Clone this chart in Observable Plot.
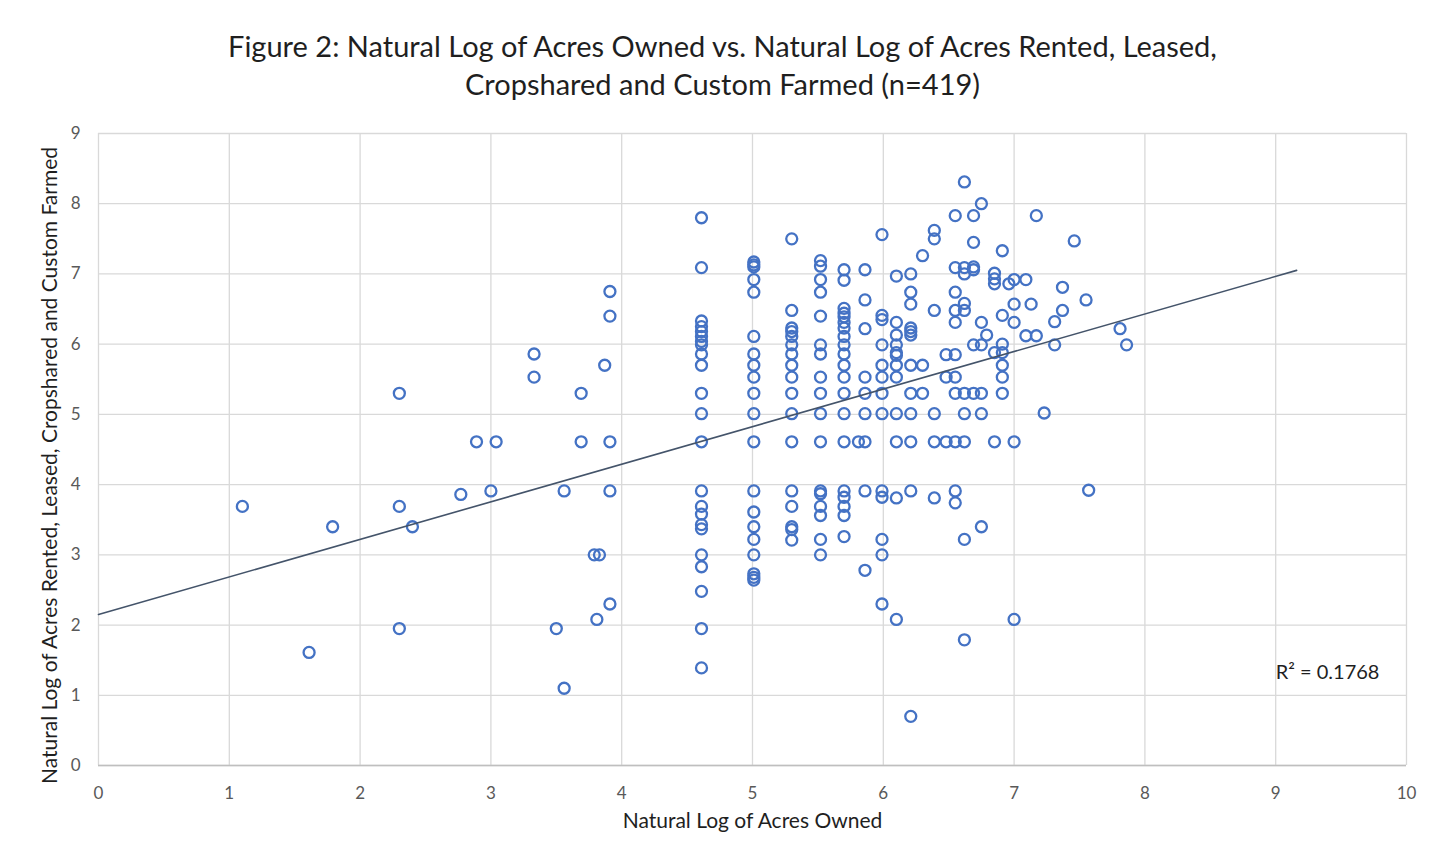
<!DOCTYPE html>
<html>
<head>
<meta charset="utf-8">
<script src="https://cdn.jsdelivr.net/npm/d3@7"></script>
<script src="https://cdn.jsdelivr.net/npm/@observablehq/plot@0.6"></script>
<style>
  html, body { margin: 0; padding: 0; background: #fff; }
  #title { box-sizing: border-box; height: 120px; padding-top: 27px; text-align: center;
           font-family: Lato, "Open Sans", sans-serif; font-size: 29px; line-height: 38px; color: #1f1f1f; }
</style>
</head>
<body>
<div id="title">Figure 2: Natural Log of Acres Owned vs. Natural Log of Acres Rented, Leased,<br>Cropshared and Custom Farmed (n=419)</div>
<div id="chart"></div>
<script>
// Natural log of acres owned (x) and natural log of acres rented/leased/cropshared/custom farmed (y)
const ownedLn = [
  1.10,1.61,1.79,2.30,2.30,2.30,2.40,2.77,2.89,3.00,3.04,3.33,3.33,3.50,3.56,3.56,3.69,3.69,3.79,3.83,3.81,3.87,3.91,3.91,3.91,3.91,3.91,
  4.61,4.61,4.61,4.61,4.61,4.61,4.61,4.61,4.61,4.61,4.61,4.61,4.61,4.61,4.61,4.61,4.61,4.61,4.61,4.61,4.61,4.61,4.61,
  5.01,5.01,5.01,5.01,5.01,5.01,5.01,5.01,5.01,5.01,5.01,5.01,5.01,5.01,5.01,5.01,5.01,5.01,5.01,5.01,
  5.30,5.30,5.30,5.30,5.30,5.30,5.30,5.30,5.30,5.30,5.30,5.30,5.30,5.30,5.30,5.30,5.30,
  5.52,5.52,5.52,5.52,5.52,5.52,5.52,5.52,5.52,5.52,5.52,5.52,5.52,5.52,5.52,5.52,5.52,
  5.70,5.70,5.70,5.70,5.70,5.70,5.70,5.70,5.70,5.70,5.70,5.70,5.70,5.70,5.70,5.70,5.70,5.70,5.70,5.70,
  5.86,5.86,5.86,5.86,5.86,5.86,5.86,5.86,5.86,5.81,
  5.99,5.99,5.99,5.99,5.99,5.99,5.99,5.99,5.99,5.99,5.99,5.99,5.99,
  6.10,6.10,6.10,6.10,6.10,6.10,6.10,6.10,6.10,6.10,6.10,6.10,
  6.21,6.21,6.21,6.21,6.21,6.21,6.21,6.21,6.21,6.21,6.21,6.21,
  6.30,6.30,6.30,
  6.39,6.39,6.39,6.39,6.39,6.39,
  6.48,6.48,6.48,
  6.55,6.55,6.55,6.55,6.55,6.55,6.55,6.55,6.55,6.55,6.55,
  6.62,6.62,6.62,6.62,6.62,6.62,6.62,6.62,6.62,6.62,
  6.69,6.69,6.69,6.69,6.69,6.69,
  6.75,6.75,6.75,6.75,6.75,6.75,
  6.79,
  6.85,6.85,6.85,6.85,6.85,
  6.91,6.91,6.91,6.91,6.91,6.91,6.91,
  6.96,
  7.00,7.00,7.00,7.00,7.00,
  7.09,7.09,
  7.13,
  7.17,7.17,
  7.23,
  7.31,7.31,
  7.37,7.37,
  7.46,7.55,7.57,7.81,7.86
];
const rentedLn = [
  3.69,1.61,3.40,5.30,3.69,1.95,3.40,3.86,4.61,3.91,4.61,5.86,5.53,1.95,3.91,1.10,5.30,4.61,3.00,3.00,2.08,5.70,6.75,6.40,4.61,3.91,2.30,
  7.80,7.09,6.33,6.25,6.18,6.11,6.04,5.99,5.86,5.70,5.30,5.01,4.61,3.91,3.69,3.58,3.43,3.37,3.00,2.83,2.48,1.95,1.39,
  7.17,7.13,7.10,6.92,6.74,6.11,5.86,5.70,5.53,5.30,5.01,4.61,3.91,3.61,3.40,3.22,3.00,2.73,2.68,2.64,
  7.50,6.48,6.23,6.18,6.11,5.99,5.86,5.70,5.53,5.30,5.01,4.61,3.91,3.69,3.40,3.36,3.21,
  7.19,7.11,6.92,6.74,6.40,5.99,5.86,5.53,5.30,5.01,4.61,3.91,3.87,3.69,3.56,3.22,3.00,
  7.06,6.91,6.51,6.44,6.39,6.31,6.23,6.11,5.99,5.86,5.70,5.53,5.30,5.01,4.61,3.91,3.82,3.69,3.56,3.26,
  7.06,6.63,6.22,5.53,5.30,5.01,4.61,3.91,2.78,4.61,
  7.56,6.41,6.35,5.99,5.70,5.53,5.30,5.01,3.91,3.82,3.22,3.00,2.30,
  6.97,6.31,6.13,5.99,5.88,5.84,5.70,5.53,5.01,4.61,3.81,2.08,
  7.00,6.74,6.57,6.23,6.18,6.13,5.70,5.30,5.01,4.61,3.91,0.70,
  7.26,5.70,5.30,
  7.62,7.50,6.48,5.01,4.61,3.81,
  5.85,5.53,4.61,
  7.83,7.09,6.74,6.48,6.31,5.85,5.53,5.30,4.61,3.91,3.74,
  8.31,7.09,7.00,6.58,6.48,5.30,5.01,4.61,3.22,1.79,
  7.83,7.45,7.10,7.06,5.99,5.30,
  8.00,6.31,5.99,5.30,5.01,3.40,
  6.13,
  7.01,6.93,6.86,5.88,4.61,
  7.33,6.41,6.00,5.88,5.70,5.53,5.30,
  6.86,
  6.92,6.57,6.31,4.61,2.08,
  6.92,6.12,
  6.57,
  7.83,6.12,
  5.02,
  6.32,5.99,
  6.81,6.48,
  7.47,6.63,3.92,6.22,5.99
];
const xTicks = [0,1,2,3,4,5,6,7,8,9,10];
const yTicks = [0,1,2,3,4,5,6,7,8,9];
// Linear trendline (as displayed in the reference)
const trendIntercept = 2.15;
const trendSlope = 0.535;
const trendRange = [0, 9.16];
const r2Text = "R² = 0.1768";
const xLabel = "Natural Log of Acres Owned";
const yLabel = "Natural Log of Acres Rented, Leased, Cropshared and Custom Farmed";

const points = ownedLn.map((x, i) => ({x, y: rentedLn[i]}));
const trend = trendRange.map(x => ({x, y: trendIntercept + trendSlope * x}));

const chart = Plot.plot({
  width: 1445,
  height: 741,
  marginLeft: 98,
  marginRight: 39,
  marginTop: 13,
  marginBottom: 96,
  style: {fontFamily: "Lato, 'Open Sans', sans-serif", fontSize: "17px", color: "#595959", background: "#fff"},
  x: {domain: [0, 10]},
  y: {domain: [0, 9]},
  marks: [
    Plot.gridX(xTicks, {stroke: "#d9d9d9", strokeOpacity: 1, strokeWidth: 1.3}),
    Plot.gridY(yTicks, {stroke: "#d9d9d9", strokeOpacity: 1, strokeWidth: 1.3}),
    Plot.ruleY([0], {stroke: "#bfbfbf", strokeWidth: 1.6}),
    Plot.axisX(xTicks, {tickSize: 0, tickPadding: 21, label: null, tickFormat: d3.format("d"), fontSize: 17, fill: "#595959"}),
    Plot.axisY(yTicks, {tickSize: 0, tickPadding: 18, label: null, tickFormat: d3.format("d"), fontSize: 17, fill: "#595959"}),
    Plot.dot(points, {x: "x", y: "y", r: 5.5, stroke: "#4472C4", strokeWidth: 2.3, fill: "none"}),
    Plot.line(trend, {x: "x", y: "y", stroke: "#44546A", strokeWidth: 1.6}),
    Plot.text([r2Text], {x: 9.0, y: 1.33, text: d => d, textAnchor: "start", fontSize: 20, fill: "#1f1f1f"}),
    Plot.text([xLabel], {frameAnchor: "bottom", dy: 62, text: d => d, fontSize: 21, fill: "#1f1f1f"}),
    Plot.text([yLabel], {frameAnchor: "left", textAnchor: "middle", dx: -48, dy: 16, rotate: -90, text: d => d, fontSize: 21, fill: "#1f1f1f"})
  ]
});
document.getElementById("chart").appendChild(chart);
</script>
</body>
</html>
